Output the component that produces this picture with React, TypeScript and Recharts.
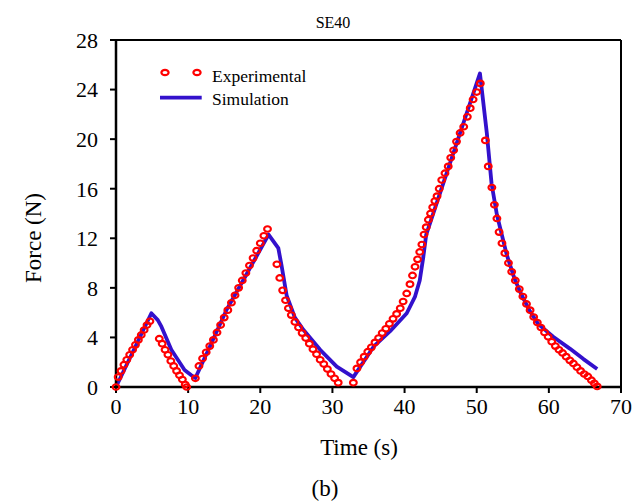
import React from "react";
import { ComposedChart, Line, XAxis, YAxis, ReferenceLine, Legend } from "recharts";

// Experimental measurements (time in s, force in N)
const expTime = [
  0, 0.3, 0.7, 1.1, 1.5, 1.9, 2.3, 2.7, 3.1, 3.5, 3.9, 4.3, 4.7,
  6.0, 6.4, 6.8, 7.2, 7.6, 8.0, 8.4, 8.8, 9.2, 9.6, 9.8,
  11.0, 11.5, 12.0, 12.5, 13.0, 13.5, 14.0, 14.5, 15.0, 15.5, 16.0, 16.5, 17.0, 17.5, 18.0, 18.5, 19.0, 19.5, 20.0, 20.5, 21.0,
  22.3, 22.7, 23.1, 23.5, 23.9, 24.3, 24.8, 25.3, 25.8, 26.3, 26.8, 27.3, 27.8, 28.3, 28.8, 29.3, 29.8, 30.3, 30.8,
  32.9, 33.4, 33.9, 34.4, 34.9, 35.4, 35.9, 36.4, 36.9, 37.4, 37.9, 38.4, 38.9, 39.4, 39.8, 40.3, 40.75, 41.1, 41.45, 41.8,
  42.1, 42.4, 42.7, 43.0, 43.3, 43.6, 43.9, 44.2, 44.5, 44.8, 45.15, 45.6, 46.05, 46.4, 46.8, 47.2, 47.7, 48.2, 48.7, 49.1,
  49.5, 50.0, 50.5,
  51.2, 51.6, 52.1, 52.45, 52.8, 53.1, 53.5, 53.9, 54.4, 54.85, 55.35, 55.9, 56.4, 56.9, 57.4, 57.9, 58.4, 58.9, 59.4, 59.9,
  60.4, 60.9, 61.4, 61.9, 62.4, 62.9, 63.4, 63.9, 64.4, 64.9, 65.4, 65.9, 66.3, 66.7,
];
const expForce = [
  0, 0.8, 1.3, 1.8, 2.2, 2.6, 3.0, 3.4, 3.8, 4.2, 4.6, 5.0, 5.3,
  3.9, 3.5, 3.0, 2.6, 2.1, 1.7, 1.3, 0.95, 0.6, 0.2, 0.0,
  0.7, 1.7, 2.3, 2.8, 3.3, 3.8, 4.4, 5.0, 5.6, 6.2, 6.8, 7.4, 8.0, 8.6, 9.2, 9.8, 10.4, 11.0, 11.6, 12.2, 12.75,
  9.9, 8.8, 7.8, 7.0, 6.35, 5.8, 5.25, 4.8, 4.35, 3.95, 3.5, 3.05, 2.65, 2.2, 1.85, 1.45, 1.05, 0.7, 0.35,
  0.35, 1.5, 2.0, 2.45, 2.85, 3.2, 3.6, 3.95, 4.35, 4.7, 5.1, 5.5, 5.9, 6.35, 6.9, 7.55, 8.3, 9.0, 9.7, 10.3,
  10.9, 11.5, 12.3, 12.9, 13.5, 14.0, 14.5, 15.0, 15.4, 16.0, 16.7, 17.25, 17.8, 18.5, 19.1, 19.8, 20.5, 21.0, 21.8, 22.5,
  23.2, 23.8, 24.5,
  19.9, 17.8, 16.1, 14.7, 13.6, 12.5, 11.6, 10.8, 10.0, 9.3, 8.6, 7.9, 7.3, 6.7, 6.2, 5.65, 5.2, 4.8, 4.4, 4.05,
  3.65, 3.3, 3.0, 2.75, 2.45, 2.15, 1.9, 1.6, 1.3, 1.05, 0.85, 0.55, 0.3, 0.05,
];

// Simulation curve
const simTime = [
  0, 4.9, 5.8, 6.3, 7.67, 9.5, 10.4, 11.0, 13.0, 15.3, 18.0, 21.15, 22.5, 22.95, 23.65, 24.8, 26.0, 28.3, 30.6, 32.9,
  35.7, 38.0, 40.3, 41.45, 42.1, 42.6, 43.0, 45.8, 48.1, 50.45, 51.4, 52.06, 52.8, 54.15, 55.2, 56.2, 57.3, 58.5, 59.6,
  60.6, 62.9, 64.8, 66.7,
];
const simForce = [
  0, 5.95, 5.4, 4.87, 3.0, 1.37, 0.97, 0.72, 3.25, 6.2, 9.0, 12.3, 11.2, 9.8, 7.4, 5.6, 4.6, 3.0, 1.65, 0.8,
  3.25, 4.5, 5.95, 7.3, 8.6, 10.5, 12.3, 17.2, 21.2, 25.3, 20.5, 16.4, 13.9, 10.7, 8.8, 7.45, 6.2, 5.1, 4.55,
  4.05, 3.1, 2.25, 1.45,
];

const xTicks = [0, 10, 20, 30, 40, 50, 60, 70];
const yTicks = [0, 4, 8, 12, 16, 20, 24, 28];

const seriesNames = ["Experimental", "Simulation"];
const titleText = "SE40";
const xTitle = "Time (s)";
const yTitle = "Force (N)";
const caption = "(b)";

const expData = expTime.map((t, i) => ({ t, f: expForce[i] }));
const simData = simTime.map((t, i) => ({ t, f: simForce[i] }));

const FONT = '"Liberation Serif", "Times New Roman", serif';
const RED = "#ff0000";
const BLUE = "#3311cc";

const ExpDot = (props: any) => {
  const { cx, cy, index } = props;
  if (cx == null || cy == null) return <g key={`e-${index}`} />;
  return (
    <ellipse
      key={`e-${index}`}
      cx={cx}
      cy={cy}
      rx={3.4}
      ry={2.8}
      fill="none"
      stroke={RED}
      strokeWidth={2.1}
    />
  );
};

const LegendContent = () => (
  <svg width={200} height={60} style={{ display: "block", overflow: "visible" }}>
    <ellipse cx={15} cy={17.5} rx={3.6} ry={2.6} fill="none" stroke={RED} strokeWidth={2.2} />
    <ellipse cx={47} cy={17.5} rx={3.6} ry={2.6} fill="none" stroke={RED} strokeWidth={2.2} />
    <text x={62} y={26.5} fontFamily={FONT} fontSize={17.5} fill="#000">
      {seriesNames[0]}
    </text>
    <line x1={10} y1={42.7} x2={51.7} y2={42.7} stroke={BLUE} strokeWidth={3.8} />
    <text x={62} y={50} fontFamily={FONT} fontSize={17.5} fill="#000">
      {seriesNames[1]}
    </text>
  </svg>
);

export default function App() {
  return (
    <div style={{ position: "absolute", left: 0, top: 0, width: 633, height: 501, background: "#fff" }}>
      <ComposedChart
        width={633}
        height={501}
        margin={{ top: 40, right: 12, bottom: 0, left: 0 }}
        style={{ fontFamily: FONT }}
      >
        <XAxis
          type="number"
          dataKey="t"
          domain={[0, 70]}
          ticks={xTicks}
          allowDuplicatedCategory={false}
          height={114}
          axisLine={{ stroke: "#000", strokeWidth: 2.5 }}
          tickLine={{ stroke: "#000", strokeWidth: 2 }}
          tickSize={6}
          tickMargin={5}
          tick={{ fill: "#000", fontSize: 22, fontFamily: FONT }}
        />
        <YAxis
          type="number"
          domain={[0, 28]}
          ticks={yTicks}
          width={116}
          axisLine={{ stroke: "#000", strokeWidth: 2.5 }}
          tickLine={{ stroke: "#000", strokeWidth: 2 }}
          tickSize={6}
          tickMargin={12}
          tick={{ fill: "#000", fontSize: 22, fontFamily: FONT }}
        />
        <ReferenceLine y={28} stroke="#000" strokeWidth={2} />
        <ReferenceLine x={70} stroke="#000" strokeWidth={2} />
        <Legend
          layout="vertical"
          align="center"
          verticalAlign="middle"
          wrapperStyle={{ position: "absolute", left: 150, top: 55, width: 200, height: 60 }}
          content={LegendContent}
        />
        <Line
          name={seriesNames[0]}
          data={expData}
          dataKey="f"
          stroke="none"
          dot={ExpDot}
          activeDot={false}
          legendType="circle"
          isAnimationActive={false}
        />
        <Line
          name={seriesNames[1]}
          data={simData}
          dataKey="f"
          type="linear"
          stroke={BLUE}
          strokeWidth={3.8}
          strokeLinejoin="round"
          dot={false}
          activeDot={false}
          isAnimationActive={false}
        />
      </ComposedChart>
      <svg
        width={633}
        height={501}
        style={{ position: "absolute", left: 0, top: 0, pointerEvents: "none" }}
      >
        <text x={333} y={28} textAnchor="middle" fontFamily={FONT} fontSize={16} fill="#000">
          {titleText}
        </text>
        <text x={359} y={455} textAnchor="middle" fontFamily={FONT} fontSize={23} fill="#000">
          {xTitle}
        </text>
        <text x={325} y={496} textAnchor="middle" fontFamily={FONT} fontSize={23} fill="#000">
          {caption}
        </text>
        <text
          x={41}
          y={238}
          transform="rotate(-90, 41, 238)"
          textAnchor="middle"
          fontFamily={FONT}
          fontSize={23}
          fill="#000"
        >
          {yTitle}
        </text>
      </svg>
    </div>
  );
}
